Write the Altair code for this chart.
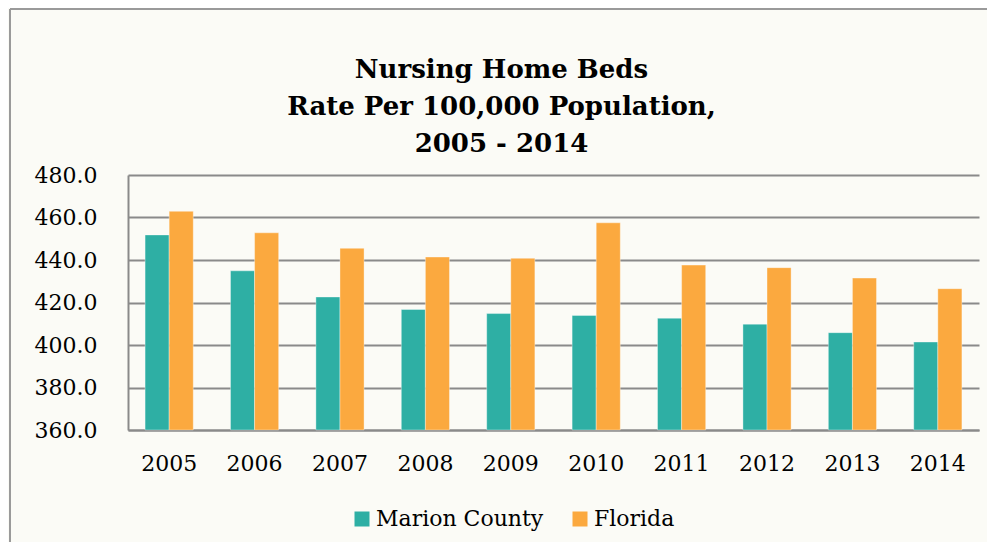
import altair as alt
import pandas as pd

years = ["2005", "2006", "2007", "2008", "2009", "2010", "2011", "2012", "2013", "2014"]
marion = [451.8, 434.9, 422.6, 416.7, 414.8, 413.9, 412.6, 409.8, 405.8, 401.4]
florida = [462.9, 452.8, 445.5, 441.4, 440.8, 457.5, 437.6, 436.4, 431.5, 426.5]
series = ["Marion County", "Florida"]
colors = ["#2EAFA4", "#FBA93F"]
y_ticks = [360, 380, 400, 420, 440, 460, 480]

rows = []
for i, yr in enumerate(years):
    rows.append({"Year": yr, "Series": series[0], "Rate": marion[i]})
    rows.append({"Year": yr, "Series": series[1], "Rate": florida[i]})
df = pd.DataFrame(rows)

FONT = "DejaVu Serif"
GRID = "#8a8a8a"

bars = alt.Chart(df).mark_bar(stroke="#ffffff", strokeWidth=0.6, strokeOpacity=0.6).encode(
    x=alt.X("Year:N", sort=years,
            scale=alt.Scale(paddingInner=0.436),
            axis=alt.Axis(title=None, labelAngle=0, ticks=False, labelFontSize=22,
                          labelFont=FONT, labelColor="#000000", labelPadding=23,
                          domainColor=GRID, domainWidth=2, grid=False)),
    xOffset=alt.XOffset("Series:N", sort=series, scale=alt.Scale(paddingInner=0, paddingOuter=0)),
    y=alt.Y("Rate:Q",
            scale=alt.Scale(domain=[360, 480], zero=False, nice=False),
            axis=alt.Axis(title=None, values=y_ticks, format=".1f", ticks=False,
                          labelFontSize=22, labelFont=FONT, labelColor="#000000",
                          labelPadding=31, domainColor=GRID, domainWidth=2,
                          gridColor=GRID, gridWidth=2, gridOpacity=1)),
    y2=alt.datum(360),
    color=alt.Color("Series:N", sort=series,
                    scale=alt.Scale(domain=series, range=colors),
                    legend=alt.Legend(title=None, orient="none", legendX=223, legendY=333,
                                      direction="horizontal", symbolType="square",
                                      symbolSize=225, symbolStrokeWidth=0,
                                      labelFontSize=22, labelFont=FONT, labelColor="#000000",
                                      labelOffset=3, columnPadding=25, labelLimit=400)),
)

frame = pd.DataFrame({"k": [0]})
left_border = alt.Chart(frame).mark_rule(color="#9a9a9a", strokeWidth=2).encode(
    x=alt.value(-118), y=alt.value(-166), y2=alt.value(380))
top_border = alt.Chart(frame).mark_rule(color="#9a9a9a", strokeWidth=2).encode(
    x=alt.value(-118), x2=alt.value(870), y=alt.value(-166))

chart = alt.layer(bars, left_border, top_border).properties(
    width=851,
    height=255,
    title=alt.TitleParams(
        text=["Nursing Home Beds", "Rate Per 100,000 Population,", "2005 - 2014"],
        font=FONT, fontSize=26, fontWeight="bold", color="#000000",
        anchor="middle", dx=-52, offset=-149, lineHeight=37),
    autosize=alt.AutoSizeParams(type="none"),
    padding={"left": 120, "top": 167, "right": 8, "bottom": 112},
).configure(background="#FBFBF6").configure_view(stroke=None, fill="#FBFBF6")

chart.save("out.html", embed_options={"renderer": "svg", "actions": False})
